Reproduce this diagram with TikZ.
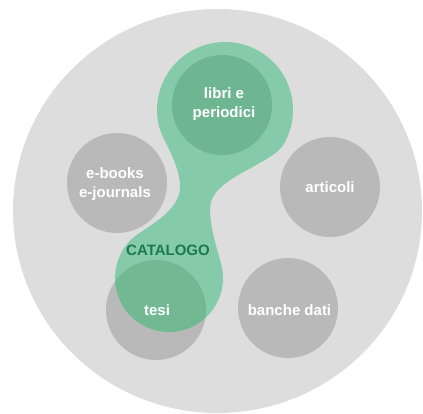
\documentclass[tikz,border=0pt]{standalone}
\usepackage{fontspec}
\setmainfont{Liberation Sans}
\begin{document}
\begin{tikzpicture}[x=1pt,y=1pt,
  bigbg/.style={fill=bgcircle},
  greyball/.style={fill=ballgrey},
  lbl/.style={text=white,font=\fontsize{15}{18.5}\selectfont\bfseries,align=center,inner sep=0pt},
  catlbl/.style={text=catgreen,font=\fontsize{15}{18}\selectfont\bfseries,inner sep=0pt}]
\definecolor{bgcircle}{HTML}{DDDDDD}
\definecolor{ballgrey}{HTML}{B9B9B9}
\definecolor{lightgreen}{HTML}{86CBA9}
\definecolor{darkgreen}{HTML}{6EB592}
\definecolor{overlapgreen}{HTML}{72B893}
\definecolor{catgreen}{HTML}{1B7A4C}
\useasboundingbox (0,0) rectangle (423,413);
\fill[white] (0,0) rectangle (423,413);
% background circle
\fill[bigbg] (217.5,202) ellipse[x radius=204.5, y radius=202];
% grey circles
\fill[greyball] (117,230) circle[radius=50];
\fill[greyball] (330,226) circle[radius=50];
\fill[greyball] (288,105) circle[radius=50];
\fill[greyball] (156,103) circle[radius=50];
% green blob
\def\blobpath{(225,303) ++(193:68) arc[start angle=193, end angle=-30, radius=68]
  .. controls (272,248.2) and (210,235) .. (210,205)
  .. controls (210,185) and (217,164) .. (221.2,149)
  arc[start angle=15, end angle=-225, radius=54]
  .. controls (143,185) and (180,200) .. (180,226)
  .. controls (180,250) and (162,273) .. cycle}
\fill[lightgreen] \blobpath;
\begin{scope}
  \clip \blobpath;
  \fill[overlapgreen] (156,103) circle[radius=50];
\end{scope}
\fill[darkgreen] (222,308) circle[radius=50];
% labels
\node[lbl] (libri) at (224,309) {libri e\\periodici};
\node[lbl] (ebooks) at (115,229) {e-books\\e-journals};
\node[lbl] (articoli) at (330,226) {articoli};
\node[lbl] (tesi) at (157,103) {tesi};
\node[lbl] (banche) at (289.5,103) {banche dati};
\node[catlbl] (catalogo) at (168,163) {CATALOGO};
\end{tikzpicture}
\end{document}
